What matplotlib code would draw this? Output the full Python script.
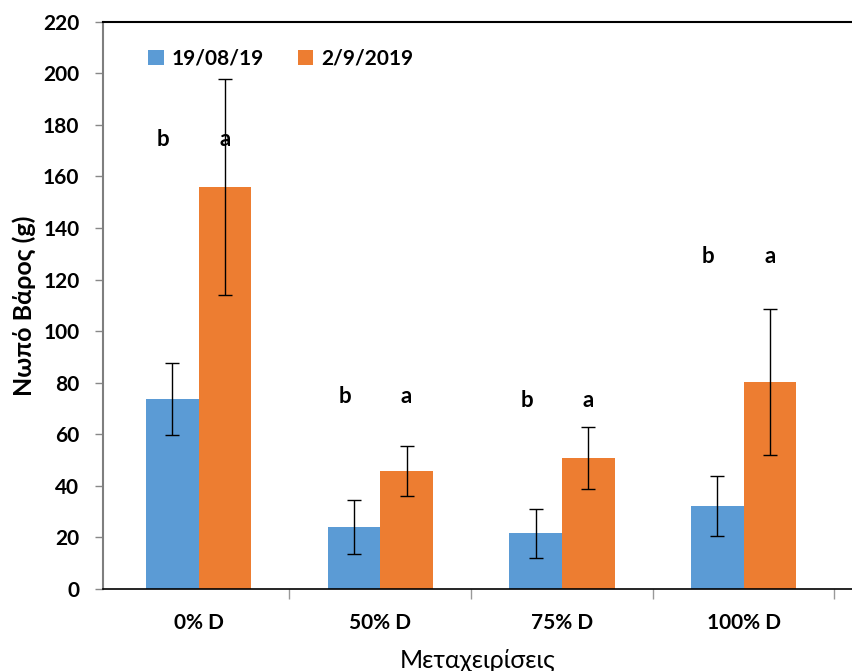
import matplotlib
matplotlib.use("Agg")
import matplotlib.pyplot as plt
import numpy as np

plt.rcParams['font.family'] = ['Lato', 'Open Sans', 'DejaVu Sans']

categories = ["0% D", "50% D", "75% D", "100% D"]
series_names = ["19/08/19", "2/9/2019"]
weight_aug = [73.6, 24.0, 21.7, 32.2]
err_aug = [13.9, 10.5, 9.5, 11.6]
weight_sep = [155.9, 45.8, 50.9, 80.2]
err_sep = [42.0, 9.8, 12.0, 28.3]
letters_aug = ["b", "b", "b", "b"]
letters_sep = ["a", "a", "a", "a"]
letter_heights = [174.5, 74.5, 73.0, 129.0]
yticks = list(range(0, 221, 20))

blue = "#5B9BD5"
orange = "#ED7D31"

fig = plt.figure(figsize=(8.52, 6.71), dpi=100)
W, H = 852, 671
ax = fig.add_axes([103 / W, (H - 589) / H, 1 - 103 / W, (589 - 21.7) / H])

x = np.arange(len(categories))
bw = 0.29
ax.bar(x - bw / 2, weight_aug, bw, color=blue, label=series_names[0], zorder=2)
ax.bar(x + bw / 2, weight_sep, bw, color=orange, label=series_names[1], zorder=2)
ax.errorbar(x - bw / 2, weight_aug, yerr=err_aug, fmt="none", ecolor="black",
            elinewidth=1.0, capsize=5, capthick=1.0, zorder=3)
ax.errorbar(x + bw / 2, weight_sep, yerr=err_sep, fmt="none", ecolor="black",
            elinewidth=1.0, capsize=5, capthick=1.0, zorder=3)

for xi, la, ls, h in zip(x, letters_aug, letters_sep, letter_heights):
    ax.text(xi - bw / 2 - 0.05, h, la, ha="center", va="center",
            fontsize=16, fontweight="bold")
    ax.text(xi + bw / 2, h, ls, ha="center", va="center",
            fontsize=16, fontweight="bold")

ax.set_ylim(0, 220)
ax.set_xlim(-0.526, (W - 198.5) / 181.7)
ax.set_yticks(yticks)
ax.set_yticklabels([str(t) for t in yticks], fontsize=15, fontweight="bold")
ax.set_xticks(x)
ax.set_xticklabels(categories, fontsize=15, fontweight="bold")
ax.tick_params(axis="x", length=0, pad=17)
ax.set_xticks(np.arange(len(categories)) + 0.5, minor=True)
ax.tick_params(axis="x", which="minor", length=7, color="#999999", width=1)
ax.tick_params(axis="y", length=6, color="#888888", width=1, pad=11)

ax.spines["right"].set_visible(False)
ax.spines["left"].set_color("#7f7f7f")
ax.spines["left"].set_linewidth(1.5)
ax.spines["bottom"].set_color("black")
ax.spines["bottom"].set_linewidth(1.2)
ax.spines["top"].set_color("black")
ax.spines["top"].set_linewidth(1.5)

ax.set_ylabel("Νωπό Βάρος (g)", fontsize=18, fontweight="bold")
ax.yaxis.set_label_coords(-0.09, 0.5)
ax.set_xlabel("Μεταχειρίσεις", fontsize=18, labelpad=12)

leg = ax.legend(loc="upper left", bbox_to_anchor=(0.035, 0.985), ncol=2,
                frameon=False, handlelength=0.75, handleheight=0.75,
                handletextpad=0.4, columnspacing=1.6,
                prop={"weight": "bold", "size": 15})

fig.savefig("out.png", dpi=100)
